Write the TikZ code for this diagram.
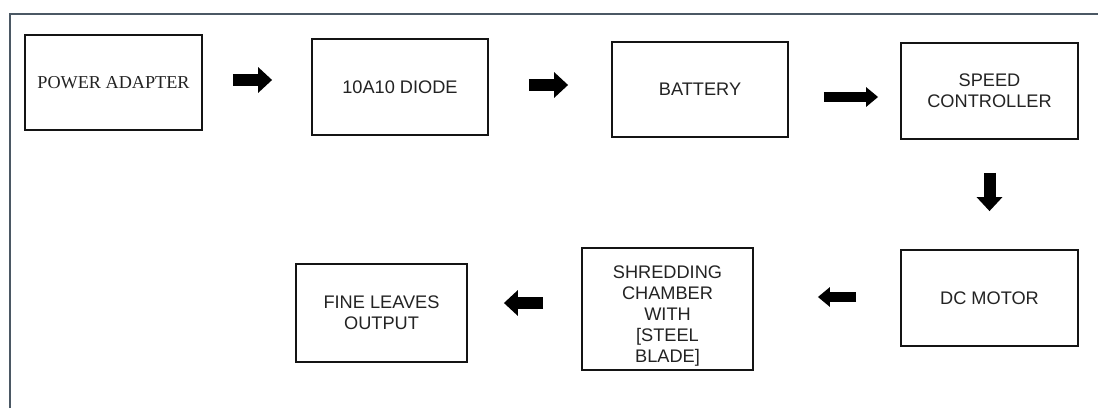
\documentclass[tikz,border=0pt]{standalone}
\usepackage{fontspec}
\setmainfont{Liberation Sans}
\newfontfamily\timesf{Liberation Serif}
\usetikzlibrary{arrows.meta}
\definecolor{framec}{RGB}{75,88,100}
\definecolor{txtc}{RGB}{35,35,35}
\begin{document}
\begin{tikzpicture}[x=1pt,y=-1pt,
  box/.style={draw=black!92, line width=1.8pt, inner sep=0pt},
  txt/.style={text=txtc, font=\fontsize{18.2}{21}\selectfont, align=center},
  blk/.style={draw=black, line width=12pt, -{Triangle[length=14pt,width=25pt]}},
  blkthin/.style={draw=black, line width=9.5pt, -{Triangle[length=12pt,width=19pt]}},
]
\useasboundingbox (0,0) rectangle (1098,408);
\fill[white] (0,0) rectangle (1098,408);
\draw[framec, line width=2pt] (10,408) -- (10,14) -- (1098,14);

\node[box, txt, minimum width=177pt, minimum height=95pt, font=\timesf\fontsize{18.2}{21}\selectfont] (pa) at (113.5,82.5) {POWER ADAPTER};
\node[box, txt, minimum width=176pt, minimum height=96pt] (diode) at (400,87) {10A10 DIODE};
\node[box, txt, minimum width=176pt, minimum height=95pt] (bat) at (700,89.5) {BATTERY};
\node[box, txt, minimum width=177pt, minimum height=96pt] (spd) at (989.5,91) {SPEED\\CONTROLLER};
\node[box, txt, minimum width=177pt, minimum height=96pt] (dc) at (989.5,298) {DC MOTOR};
\node[box, minimum width=171pt, minimum height=122pt,
  label={[txt, yshift=-7pt]center:{SHREDDING\\CHAMBER\\WITH\\{}[STEEL\\BLADE]}}] (shred) at (667.5,309) {};
\node[box, txt, minimum width=171pt, minimum height=98pt] (fine) at (381.5,313) {FINE LEAVES\\OUTPUT};

\draw[blk] ([xshift=30pt,yshift=2.5pt]pa.east) -- ([xshift=-39pt,yshift=7pt]diode.west);
\draw[blk] ([xshift=40pt,yshift=2pt]diode.east) -- ([xshift=-43pt,yshift=4.5pt]bat.west);
\draw[blkthin] ([xshift=35pt,yshift=-7.5pt]bat.east) -- ([xshift=-22pt,yshift=-6pt]spd.west);
\draw[blk] ([yshift=-33pt]spd.south) -- ([yshift=38pt]dc.north);
\draw[blkthin] ([xshift=-44pt,yshift=1pt]dc.west) -- ([xshift=64pt,yshift=12pt]shred.east);
\draw[blk] ([xshift=-38pt,yshift=6pt]shred.west) -- ([xshift=36pt,yshift=10pt]fine.east);
\end{tikzpicture}
\end{document}
